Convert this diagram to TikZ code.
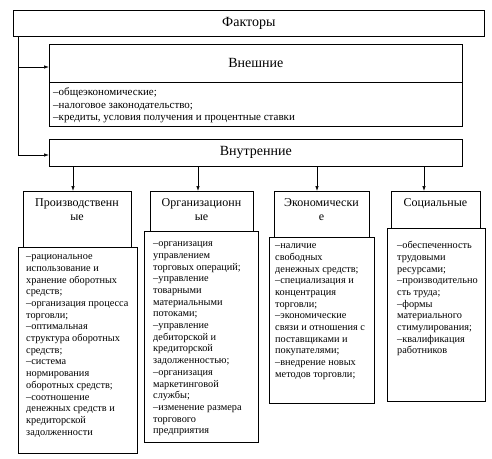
\documentclass[tikz,border=0pt]{standalone}
\usepackage{fontspec}
\setmainfont{Liberation Serif}
\usetikzlibrary{arrows.meta}
\begin{document}
\begin{tikzpicture}[x=1pt,y=-1pt,
 box/.style={draw, line width=0.7pt, anchor=north west, inner sep=0pt},
 ttl/.style={font=\fontsize{14}{16}\selectfont},
 lst/.style={anchor=north west, inner sep=0pt, align=left, font=\fontsize{10.3}{11.7}\selectfont},
 hd/.style={anchor=north, inner sep=0pt, align=center, font=\fontsize{12}{14}\selectfont},
 arr/.style={-{Latex[length=5pt,width=3.5pt]}, line width=0.7pt}]
\useasboundingbox (0,0) rectangle (492,458);
% top
\node[box, ttl, minimum width=471pt, minimum height=26pt] (fak) at (13,10) {Факторы};
% external
\node[box, ttl, minimum width=413pt, minimum height=38pt] (vh) at (49,44) {Внешние};
\node[box, minimum width=413pt, minimum height=44pt] (vb) at (49,82) {};
\node[lst, font=\fontsize{11}{12.5}\selectfont] (vbt) at (53,87) {\strut–общеэкономические;\\–налоговое законодательство;\\–кредиты, условия получения и процентные ставки};
% internal
\node[box, ttl, minimum width=413pt, minimum height=27pt] (vin) at (49,139) {Внутренние};
% columns upper boxes
\node[box, minimum width=108pt, minimum height=56pt] (p1) at (23,191) {};
\node[hd] (p1t) at (77,196) {\strut Производственн\\ые};
\node[box, minimum width=103pt, minimum height=40pt] (o1) at (150,191) {};
\node[hd] (o1t) at (201.5,196) {\strut Организационн\\ые};
\node[box, minimum width=95pt, minimum height=46pt] (e1) at (274,191) {};
\node[hd] (e1t) at (321.5,196) {\strut Экономически\\е};
\node[box, minimum width=89pt, minimum height=37pt] (s1) at (391,191) {};
\node[hd] (s1t) at (435.5,196) {\strut Социальные};
% lower boxes
\node[box, minimum width=119pt, minimum height=206pt] (p2) at (18,247) {};
\node[lst] (p2t) at (26,251.3) {\strut–рациональное\\использование и\\хранение оборотных\\средств;\\–организация процесса\\торговли;\\–оптимальная\\структура оборотных\\средств;\\–система\\нормирования\\оборотных средств;\\–соотношение\\денежных средств и\\кредиторской\\задолженности};
\node[box, minimum width=114pt, minimum height=211pt] (o2) at (144,231) {};
\node[lst] (o2t) at (153,238.3) {\strut–организация\\управлением\\торговых операций;\\–управление\\товарными\\материальными\\потоками;\\–управление\\дебиторской и\\кредиторской\\задолженностью;\\–организация\\маркетинговой\\службы;\\–изменение размера\\торгового\\предприятия};
\node[box, minimum width=105pt, minimum height=166pt] (e2) at (269,237) {};
\node[lst] (e2t) at (275,240.3) {\strut–наличие\\свободных\\денежных средств;\\–специализация и\\концентрация\\торговли;\\–экономические\\связи и отношения с\\поставщиками и\\покупателями;\\–внедрение новых\\методов торговли;};
\node[box, minimum width=98pt, minimum height=173pt] (s2) at (387,228) {};
\node[lst] (s2t) at (397,240.3) {\strut–обеспеченность\\трудовыми\\ресурсами;\\–производительно\\сть труда;\\–формы\\материального\\стимулирования;\\–квалификация\\работников};
% connectors
\coordinate (j1) at (18,67);
\coordinate (j2) at (18,155);
\draw[line width=0.7pt] (fak.south -| j1) -- (j2);
\draw[arr] (j1) -- (vh.west |- j1);
\draw[arr] (j2) -- (vin.west |- j2);
\coordinate (a1) at (73,0);
\coordinate (a2) at (198,0);
\coordinate (a3) at (317,0);
\coordinate (a4) at (424,0);
\draw[arr] (vin.south -| a1) -- (p1.north -| a1);
\draw[arr] (vin.south -| a2) -- (o1.north -| a2);
\draw[arr] (vin.south -| a3) -- (e1.north -| a3);
\draw[arr] (vin.south -| a4) -- (s1.north -| a4);
\end{tikzpicture}
\end{document}
